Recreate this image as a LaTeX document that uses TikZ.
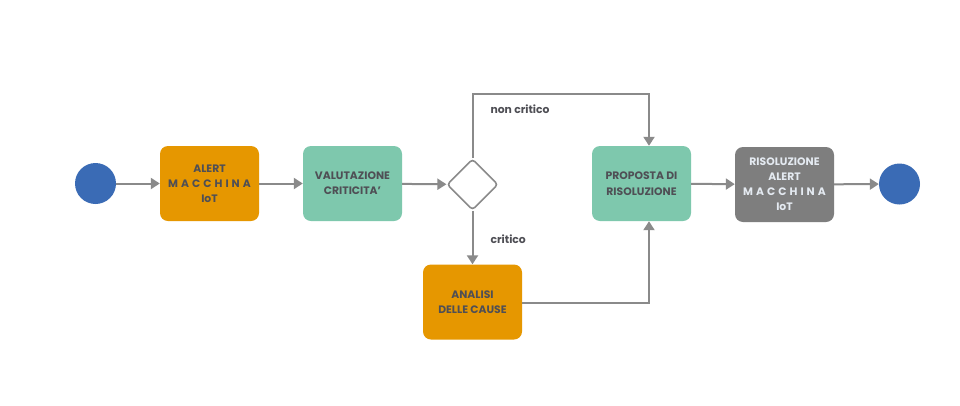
\documentclass[tikz,border=0pt]{standalone}
\usepackage{fontspec}
\setmainfont{Poppins}
\newfontfamily\spaced{Poppins}[LetterSpace=28]
\usetikzlibrary{arrows.meta,shapes.geometric}
\definecolor{cblue}{HTML}{3A6BB5}
\definecolor{corange}{HTML}{E69700}
\definecolor{cteal}{HTML}{7EC8AD}
\definecolor{cgray}{HTML}{7E7E7E}
\definecolor{cline}{HTML}{8A8A8A}
\definecolor{ctext}{HTML}{4F4F55}
\definecolor{clight}{HTML}{E4EAF1}
\begin{document}
\begin{tikzpicture}[x=1pt,y=-1pt,
  font=\fontsize{10.8}{15}\selectfont\bfseries,
  box/.style={rounded corners=8pt, minimum width=99pt, minimum height=75pt,
    align=center, text=ctext, inner sep=0pt},
  evt/.style={circle, fill=cblue, minimum size=41pt, inner sep=0pt},
  gate/.style={diamond, draw=cline, line width=1.6pt, fill=white,
    minimum width=51pt, minimum height=51pt, inner sep=0pt, rounded corners=3pt},
  arr/.style={draw=cline, line width=2pt, -{Triangle[length=9pt,width=11pt]}},
  lbl/.style={text=ctext, font=\fontsize{10.8}{12}\selectfont\bfseries}]
\useasboundingbox[fill=white] (0,0) rectangle (960,405);
\node[evt] (start) at (95.5,183.5) {};
\node[box, fill=corange] (alert) at (209.5,183.5) {ALERT\\{\spaced MACCHINA}\\IoT};
\node[box, fill=cteal] (valut) at (352.5,183.5) {VALUTAZIONE\\CRITICITA'};
\node[gate] (gate) at (472.5,184.5) {};
\node[box, fill=cteal, font=\fontsize{10.8}{16}\selectfont\bfseries] (prop) at (641.5,183.5) {PROPOSTA DI\\RISOLUZIONE};
\node[box, fill=cgray, text=clight] (risol) at (784.5,184.5) {RISOLUZIONE\\ALERT\\{\spaced MACCHINA}\\IoT};
\node[evt] (end) at (899.5,184) {};
\node[box, fill=corange] (anal) at (472.5,302) {ANALISI\\DELLE CAUSE};
\coordinate (topL) at (472.5,94);
\coordinate (topR) at (649,94);
\coordinate (botR) at (649,303);
\node[lbl, anchor=west] (lnc) at (487,109) {non critico};
\node[lbl, anchor=west] (lc) at (487,239) {critico};
\draw[arr] (start) -- (alert);
\draw[arr] (alert) -- (valut);
\draw[arr] (valut) -- (gate);
\draw[arr] (gate.north) -- (topL) -- (topR) -- (prop.north -| topR);
\draw[arr] (gate.south) -- (anal.north);
\draw[arr] (anal.east |- botR) -- (botR) -- (prop.south -| botR);
\draw[arr] (prop) -- (risol);
\draw[arr] (risol) -- (end);
\end{tikzpicture}
\end{document}
